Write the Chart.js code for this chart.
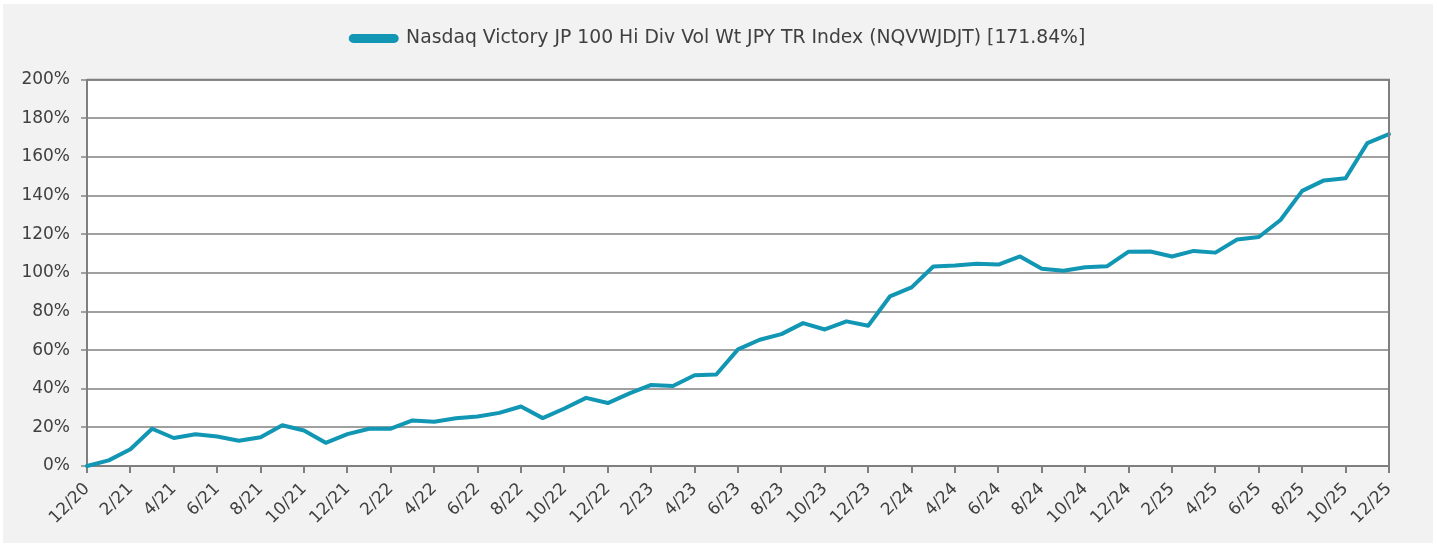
<!DOCTYPE html>
<html>
<head>
<meta charset="utf-8">
<script src="https://cdn.jsdelivr.net/npm/chart.js@4.4.1/dist/chart.umd.min.js"></script>
<style>
  html, body { margin: 0; padding: 0; background: #ffffff; }
  #panel {
    position: absolute; left: 3px; top: 4px; width: 1430px; height: 539px;
    background: #f2f2f2;
  }
</style>
</head>
<body>
<div id="panel"><canvas id="perfChart" width="1430" height="539"></canvas></div>
<script>
// ===== Cumulative total return, monthly 12/20 .. 12/25 =====

const months = [
  "12/20", "1/21", "2/21", "3/21", "4/21", "5/21", "6/21", "7/21", "8/21", "9/21", "10/21", "11/21",
  "12/21", "1/22", "2/22", "3/22", "4/22", "5/22", "6/22", "7/22", "8/22", "9/22", "10/22", "11/22",
  "12/22", "1/23", "2/23", "3/23", "4/23", "5/23", "6/23", "7/23", "8/23", "9/23", "10/23", "11/23",
  "12/23", "1/24", "2/24", "3/24", "4/24", "5/24", "6/24", "7/24", "8/24", "9/24", "10/24", "11/24",
  "12/24", "1/25", "2/25", "3/25", "4/25", "5/25", "6/25", "7/25", "8/25", "9/25", "10/25", "11/25",
  "12/25"
];

// cumulative return in %
const indexReturn = [
  0, 2.9, 8.7, 19.3, 14.5, 16.4, 15.3, 13.1, 14.9, 21.1, 18.4, 12.0,
  16.5, 19.3, 19.3, 23.6, 22.9, 24.7, 25.6, 27.5, 30.8, 24.8, 29.8, 35.3,
  32.6, 37.6, 42.0, 41.4, 47.0, 47.4, 60.4, 65.4, 68.3, 74.0, 70.7, 74.9,
  72.6, 87.8, 92.5, 103.3, 103.8, 104.7, 104.3, 108.5, 102.2, 101.1, 102.9, 103.4,
  111.0, 111.1, 108.5, 111.4, 110.5, 117.3, 118.6, 127.4, 142.5, 147.9, 149.0, 167.2,
  171.84
];

const seriesLabel = "Nasdaq Victory JP 100 Hi Div Vol Wt JPY TR Index (NQVWJDJT) [171.84%]";

const yTicks = [0, 20, 40, 60, 80, 100, 120, 140, 160, 180, 200];

const TEAL = "#1196b4";
const GRID = "#a0a0a0";
const TEXT = "#404040";
const FONT = "DejaVu Sans";

// white plot background + frame around the plot area, legend spacing
const plotFrame = {
  id: "plotFrame",
  beforeInit(chart) {
    const lg = chart.legend;
    if (lg) {
      const fit = lg.fit;
      lg.fit = function () { fit.call(this); this.height += 22; };
    }
  },
  afterLayout(chart) {
    // centre legend on the whole panel, not only the area left of the right padding
    const lg = chart.legend;
    if (lg) { lg.left += 22; lg.right += 22; }
  },
  beforeDraw(chart) {
    const a = chart.chartArea;
    const c = chart.ctx;
    c.save();
    c.fillStyle = "#ffffff";
    c.fillRect(a.left, a.top, a.right - a.left, a.bottom - a.top);
    c.restore();
  },
  afterDatasetsDraw(chart) {
    const a = chart.chartArea;
    const c = chart.ctx;
    c.save();
    c.strokeStyle = "#7f7f7f";
    c.lineWidth = 2;
    c.beginPath();
    c.moveTo(a.left, a.top);
    c.lineTo(a.right, a.top);
    c.lineTo(a.right, a.bottom);
    c.stroke();
    c.restore();
  }
};

const points = months.map((m, i) => ({ x: i, y: indexReturn[i] }));

const ctx = document.getElementById("perfChart").getContext("2d");

new Chart(ctx, {
  type: "line",
  data: {
    datasets: [{
      label: seriesLabel,
      data: points,
      borderColor: TEAL,
      backgroundColor: TEAL,
      borderWidth: 4,
      pointRadius: 0,
      tension: 0,
      borderJoinStyle: "round",
      borderCapStyle: "round",
      clip: 4
    }]
  },
  options: {
    responsive: false,
    animation: false,
    layout: { padding: { top: 15, right: 44, left: 0, bottom: 0 } },
    plugins: {
      legend: {
        position: "top",
        labels: {
          color: TEXT,
          font: { size: 18.8, family: FONT },
          boxWidth: 46,
          boxHeight: 5,
          padding: 10,
          useBorderRadius: true,
          borderRadius: 2.5
        }
      },
      tooltip: { enabled: false }
    },
    scales: {
      x: {
        type: "linear",
        min: 0,
        max: months.length - 1,
        afterBuildTicks: s => { s.ticks = months.map((m, i) => ({ value: i })).filter(t => t.value % 2 === 0); },
        afterFit: s => { s.height = 77; },
        grid: {
          drawOnChartArea: false,
          drawTicks: true,
          tickLength: 7,
          color: "#7f7f7f",
          lineWidth: 2
        },
        border: { color: "#7f7f7f", width: 2 },
        ticks: {
          color: TEXT,
          font: { size: 17, family: FONT },
          maxRotation: 45,
          minRotation: 45,
          autoSkip: false,
          padding: 6,
          callback: v => months[v]
        }
      },
      y: {
        min: 0,
        max: 200,
        afterBuildTicks: s => { s.ticks = yTicks.map(v => ({ value: v })); },
        afterFit: s => { s.width = 84; },
        grid: {
          color: GRID,
          lineWidth: 2,
          tickLength: 6
        },
        border: { color: "#7f7f7f", width: 2 },
        ticks: {
          color: TEXT,
          font: { size: 17, family: FONT },
          padding: 11,
          callback: v => v + "%"
        }
      }
    }
  },
  plugins: [plotFrame]
});
</script>
</body>
</html>
